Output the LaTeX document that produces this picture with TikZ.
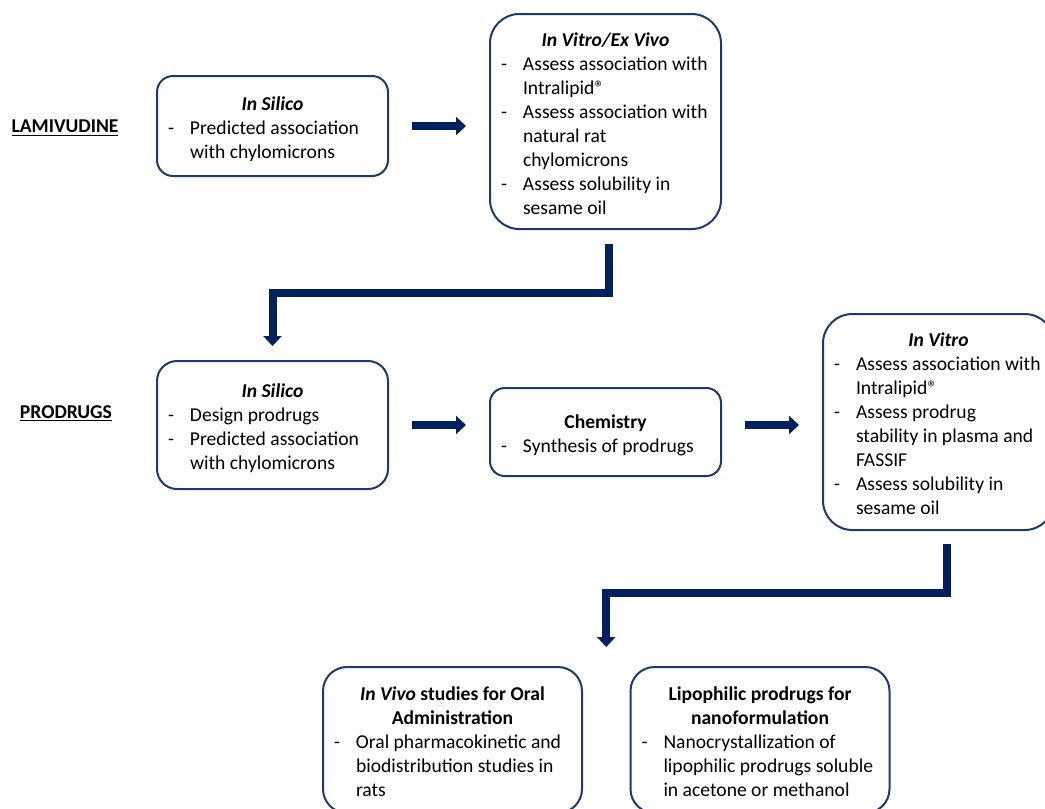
\documentclass[tikz,border=0pt]{standalone}
\usepackage{fontspec}
\setmainfont{Carlito}
\usetikzlibrary{arrows.meta,calc}
\definecolor{boxblue}{RGB}{32,56,110}
\definecolor{arrowblue}{RGB}{0,32,96}
\newcommand\stagehead[1]{\multicolumn{2}{@{}c@{}}{\makebox[156.75pt]{\bfseries #1}}\\}
\newcommand\widehead[1]{\multicolumn{2}{@{}c@{}}{\makebox[177.75pt]{\bfseries #1}}\\}
\newcommand\stagebody[1]{\raisebox{-3pt}[\height][\depth]{\begin{tabular}{@{}p{16.5pt}@{}l@{}}#1\end{tabular}}}
\tikzset{
  stage/.style={draw=boxblue, line width=1.5pt, fill=white, inner xsep=8.25pt, inner ysep=0pt, minimum width=173.25pt, font=\fontsize{14.7}{18}\selectfont},
  widestage/.style={stage, minimum width=194.25pt},
  bigarrow/.style={draw=arrowblue, line width=6pt, -{Triangle[length=7.5pt,width=13.5pt]}},
  rowlabel/.style={font=\fontsize{14.7}{18}\selectfont\bfseries}
}
\begin{document}
\begin{tikzpicture}[x=0.75pt,y=-0.75pt]
    \useasboundingbox (0,0) rectangle (1045,808);
    \node[rowlabel] (lam) at (65,128) {\underline{LAMIVUDINE}};
    \node[rowlabel] (pro) at (66,413) {\underline{PRODRUGS}};
    \node[stage, minimum height=75pt, rounded corners=12pt] (isl) at (272.5,126)
        {\stagebody{\stagehead{\itshape In Silico}
        -&Predicted association\\ &with chylomicrons}};
    \node[stage, minimum height=161.25pt, rounded corners=22pt] (ivev) at (605.5,121.5)
        {\stagebody{\stagehead{\itshape In Vitro/Ex Vivo}
        -&Assess association with\\ &Intralipid®\\
        -&Assess association with\\ &natural rat\\ &chylomicrons\\
        -&Assess solubility in\\ &sesame oil}};
    \node[stage, minimum height=96pt, rounded corners=15pt] (isp) at (272.5,425)
        {\stagebody{\stagehead{\itshape In Silico}
        -&Design prodrugs\\
        -&Predicted association\\ &with chylomicrons}};
    \node[stage, minimum height=66pt, rounded corners=11pt] (chem) at (605.5,432)
        {\stagebody{\stagehead{Chemistry}
        -&Synthesis of prodrugs}};
    \node[stage, minimum height=162pt, rounded corners=22pt] (ivt) at (938.5,422)
        {\stagebody{\stagehead{\itshape In Vitro}
        -&Assess association with\\ &Intralipid®\\
        -&Assess prodrug\\ &stability in plasma and\\ &FASSIF\\
        -&Assess solubility in\\ &sesame oil}};
    \node[widestage, minimum height=109.5pt, rounded corners=18pt] (ivo) at (452.5,740)
        {\stagebody{\widehead{\textit{In Vivo} studies for Oral}\widehead{Administration}
        -&Oral pharmacokinetic and\\ &biodistribution studies in\\ &rats}};
    \node[widestage, minimum height=109.5pt, rounded corners=18pt] (lipo) at (760,740)
        {\stagebody{\widehead{Lipophilic prodrugs for}\widehead{nanoformulation}
        -&Nanocrystallization of\\ &lipophilic prodrugs soluble\\ &in acetone or methanol}};
    \coordinate (split) at ($(ivo.north east)!0.5!(lipo.north west)$);
    \draw[bigarrow, shorten <=17.25pt, shorten >=17.25pt] (isl.east) -- (isl.east -| ivev.west);
    \draw[bigarrow, shorten <=10.5pt, shorten >=10.5pt] ([xshift=2.5pt]ivev.south) -- ++(0,63) -| (isp.north);
    \draw[bigarrow, shorten <=17.25pt, shorten >=17.25pt] (isp.east) -- (isp.east -| chem.west);
    \draw[bigarrow, shorten <=17.25pt, shorten >=17.25pt] (isp.east -| chem.east) -- (isp.east -| ivt.west);
    \draw[bigarrow, shorten <=9.75pt, shorten >=14.25pt] ([xshift=6.4pt]ivt.south) -- ++(0,62) -| (split);
\end{tikzpicture}
\end{document}
